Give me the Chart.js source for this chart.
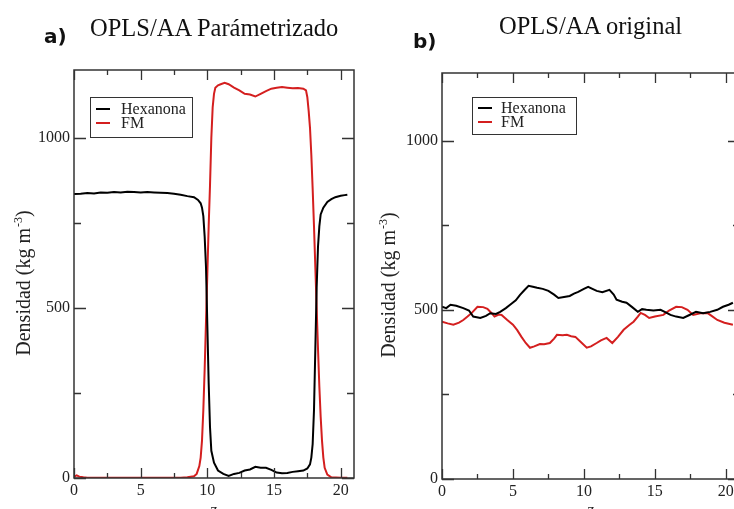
<!DOCTYPE html>
<html><head><meta charset="utf-8">
<script src="https://cdn.jsdelivr.net/npm/chart.js@4"></script>
<style>
html,body{margin:0;padding:0;background:#fff;overflow:hidden;}
#wrap{position:relative;width:734px;height:509px;overflow:hidden;background:#fff;}
canvas{position:absolute;top:0;}
.lbl{position:absolute;white-space:nowrap;color:#111;line-height:1;}
.serif{font-family:"Liberation Serif","Times New Roman",serif;font-size:24.5px;}
.bold{font-family:"DejaVu Sans",sans-serif;font-weight:bold;font-size:20px;}
</style></head>
<body><div id="wrap">
<canvas id="ca" width="380" height="520" style="left:0"></canvas>
<canvas id="cb" width="400" height="520" style="left:376px"></canvas>
<div class="lbl bold" style="left:44px;top:26px">a)</div>
<div class="lbl serif" style="left:90px;top:16px">OPLS/AA Parámetrizado</div>
<div class="lbl bold" style="left:413px;top:31px">b)</div>
<div class="lbl serif" style="left:499px;top:14px">OPLS/AA original</div>
</div>
<script>
// ---- data ----
const seriesNames = ['Hexanona', 'FM'];
const xTicks = [0, 5, 10, 15, 20];
const xMinor = [2.5, 7.5, 12.5, 17.5];
const yTicks = [0, 500, 1000];
const yMinor = [250, 750];
const xTitle = 'z';
const yTitleMain = 'Densidad (kg m';
const yTitleSup = '-3';
const yTitleEnd = ')';

// panel a) OPLS/AA Parámetrizado
const hexA_z = [0,0.5,1,1.5,2,2.5,3,3.5,4,4.5,5,5.5,6,6.5,7,7.5,8,8.5,9,9.3,9.5,9.6,9.7,9.8,9.9,10.0,10.1,10.2,10.3,10.5,10.8,11.2,11.6,12.0,12.4,12.8,13.2,13.6,14.0,14.4,14.8,15.2,15.6,16.0,16.4,16.8,17.2,17.5,17.7,17.8,17.9,18.0,18.1,18.2,18.3,18.4,18.5,18.7,19.0,19.3,19.6,20.0,20.3,20.5];
const hexA_v = [835,836,838,837,840,839,841,840,842,841,840,841,840,839,838,836,833,829,826,818,808,795,770,710,620,450,280,150,80,45,22,12,6,12,15,22,25,33,30,30,24,16,14,15,18,20,22,28,40,60,100,200,380,560,680,740,775,795,812,820,826,830,832,833];
const fmA_z = [0,0.2,0.4,0.7,1,2,3,4,5,6,7,8,8.5,9.0,9.2,9.4,9.5,9.6,9.7,9.8,9.9,10.0,10.1,10.2,10.3,10.4,10.5,10.6,10.8,11.0,11.3,11.6,12.0,12.4,12.8,13.2,13.6,14.0,14.4,14.8,15.2,15.6,16.0,16.4,16.8,17.2,17.4,17.5,17.6,17.7,17.8,17.9,18.0,18.1,18.2,18.3,18.4,18.5,18.6,18.7,18.8,19.0,19.3,20.0,20.5];
const fmA_v = [3,8,4,2,1,1,1,1,1,1,1,1,2,5,12,35,60,110,200,320,460,600,740,860,1000,1090,1130,1148,1155,1158,1162,1158,1148,1140,1130,1128,1122,1130,1138,1145,1148,1150,1148,1146,1147,1145,1140,1120,1080,1030,950,850,740,620,500,380,270,180,110,60,30,10,2,1,1];

// panel b) OPLS/AA original
const hexB_z = [0,0.3,0.6,1.0,1.5,1.9,2.2,2.7,3.1,3.4,3.8,4.1,4.5,4.8,5.2,5.5,5.8,6.1,6.4,6.7,7.1,7.5,7.9,8.2,8.6,9.0,9.3,9.6,10.0,10.3,10.6,10.9,11.3,11.8,12.1,12.3,12.7,13.0,13.4,13.8,14.1,14.4,14.9,15.4,15.8,16.1,16.5,17.0,17.4,17.9,18.4,18.9,19.4,19.8,20.2,20.5];
const hexB_v = [509,505,515,512,505,498,480,476,482,490,488,494,505,515,528,544,558,571,568,565,562,556,545,535,538,541,548,553,562,568,562,556,552,559,545,530,524,521,508,494,502,500,498,500,492,485,480,476,484,494,490,494,500,509,515,521];
const fmB_z = [0,0.4,0.8,1.2,1.5,1.8,2.1,2.5,2.9,3.2,3.5,3.7,4.0,4.2,4.6,5.0,5.3,5.6,5.9,6.2,6.5,6.9,7.2,7.6,7.9,8.1,8.5,8.8,9.1,9.4,9.8,10.2,10.5,10.9,11.2,11.6,12.0,12.4,12.8,13.2,13.5,13.8,14.0,14.3,14.6,15.0,15.6,16.0,16.5,16.9,17.3,17.7,18.2,18.7,19.0,19.4,19.9,20.5];
const fmB_v = [465,460,456,462,470,480,491,509,508,503,490,480,486,485,470,456,440,420,402,388,392,399,398,402,415,426,425,426,422,420,404,388,392,402,410,417,402,420,441,455,465,480,491,485,476,480,485,498,509,508,500,485,490,491,482,470,462,456];

// ---- styling ----
const SERIF = '"Liberation Serif","Times New Roman",serif';
const INK = '#222';
const COLORS = ['#000000', '#d41f1f'];

const framePlugin = {
  id: 'frame',
  afterDatasetsDraw(chart) {
    const {ctx, chartArea: a, scales: {x, y}} = chart;
    ctx.save();
    ctx.strokeStyle = '#333';
    ctx.lineWidth = 1.5;
    ctx.strokeRect(a.left, a.top, a.right - a.left, a.bottom - a.top);
    ctx.lineWidth = 1.3;
    ctx.beginPath();
    const xt = (vals, len) => vals.forEach(v => {
      const p = Math.round(x.getPixelForValue(v)) + 0.5;
      ctx.moveTo(p, a.bottom); ctx.lineTo(p, a.bottom - len);
      ctx.moveTo(p, a.top); ctx.lineTo(p, a.top + len);
    });
    const yt = (vals, len) => vals.forEach(v => {
      const p = Math.round(y.getPixelForValue(v)) + 0.5;
      ctx.moveTo(a.left, p); ctx.lineTo(a.left + len, p);
      ctx.moveTo(a.right, p); ctx.lineTo(a.right - len, p);
    });
    xt(xTicks, 10); xt(xMinor, 5);
    yt(yTicks, 12); yt(yMinor, 7);
    ctx.stroke();
    ctx.restore();
  }
};

// y-axis title with a real superscript, centred on the y scale
const yTitlePlugin = {
  id: 'yTitleSup',
  afterDraw(chart, args, opts) {
    const {ctx, scales: {y}} = chart;
    const f = opts.size, fs = Math.round(opts.size * 0.62);
    ctx.save();
    ctx.fillStyle = INK;
    ctx.textBaseline = 'alphabetic';
    ctx.font = f + 'px ' + SERIF;
    const w1 = ctx.measureText(yTitleMain).width;
    const w3 = ctx.measureText(yTitleEnd).width;
    ctx.font = fs + 'px ' + SERIF;
    const w2 = ctx.measureText(yTitleSup).width;
    const total = w1 + w2 + w3 + 1;
    const cy = (y.top + y.bottom) / 2 + opts.shift;
    ctx.translate(opts.baseX, cy);
    ctx.rotate(-Math.PI / 2);
    let x0 = -total / 2;
    ctx.font = f + 'px ' + SERIF;
    ctx.fillText(yTitleMain, x0, 0);
    ctx.font = fs + 'px ' + SERIF;
    ctx.fillText(yTitleSup, x0 + w1 + 1, -f * 0.42);
    ctx.font = f + 'px ' + SERIF;
    ctx.fillText(yTitleEnd, x0 + w1 + w2 + 1, 0);
    ctx.restore();
  }
};

const legendPlugin = {
  id: 'boxLegend',
  afterDraw(chart, args, opts) {
    const {ctx, chartArea: a} = chart;
    const x0 = a.left + opts.dx, y0 = a.top + opts.dy;
    ctx.save();
    ctx.fillStyle = '#fff';
    ctx.fillRect(x0, y0, opts.w, opts.h);
    ctx.strokeStyle = '#333';
    ctx.lineWidth = 1;
    ctx.strokeRect(x0 + 0.5, y0 + 0.5, opts.w, opts.h);
    ctx.font = '16px ' + SERIF;
    ctx.textBaseline = 'middle';
    chart.data.datasets.forEach((ds, i) => {
      const ly = y0 + opts.line0 + i * 14;
      ctx.strokeStyle = ds.borderColor;
      ctx.lineWidth = 2;
      ctx.beginPath();
      ctx.moveTo(x0 + 6, ly); ctx.lineTo(x0 + 20, ly);
      ctx.stroke();
      ctx.fillStyle = INK;
      ctx.fillText(ds.label, x0 + opts.tx, ly + 1);
    });
    ctx.restore();
  }
};

function makeChart(id, hz, hv, fz, fv, L) {
  const mk = (z, v) => z.map((zz, i) => ({x: zz, y: v[i]}));
  return new Chart(document.getElementById(id), {
    type: 'line',
    data: {
      datasets: [
        {label: seriesNames[0], data: mk(hz, hv), borderColor: COLORS[0], borderWidth: 2, pointRadius: 0, tension: 0},
        {label: seriesNames[1], data: mk(fz, fv), borderColor: COLORS[1], borderWidth: 2, pointRadius: 0, tension: 0}
      ]
    },
    options: {
      responsive: false,
      animation: false,
      layout: {padding: {left: L.padL, right: L.padR, top: L.padT, bottom: 0}},
      plugins: {
        legend: {display: false},
        tooltip: {enabled: false},
        boxLegend: L.legend,
        yTitleSup: L.ytitle
      },
      scales: {
        x: {
          type: 'linear', min: 0, max: 21,
          grid: {display: false, drawTicks: false},
          border: {display: false},
          afterBuildTicks: s => { s.ticks = xTicks.map(v => ({value: v})); },
          afterFit: s => { s.height = L.xH; },
          ticks: {color: INK, font: {family: SERIF, size: 16}, padding: 3, maxRotation: 0, callback: v => String(v)},
          title: {display: true, text: xTitle, color: INK, font: {family: SERIF, size: 16}, padding: {top: 0, bottom: 0}}
        },
        y: {
          type: 'linear', min: 0, max: 1200,
          grid: {display: false, drawTicks: false},
          border: {display: false},
          afterBuildTicks: s => { s.ticks = yTicks.map(v => ({value: v})); },
          afterFit: s => { s.width = L.yW; },
          ticks: {color: INK, font: {family: SERIF, size: 16}, padding: 4, callback: v => String(v)},
          title: {display: false}
        }
      }
    },
    plugins: [framePlugin, legendPlugin, yTitlePlugin]
  });
}

makeChart('ca', hexA_z, hexA_v, fmA_z, fmA_v,
  {padL: 13, padR: 26, padT: 70, yW: 61, xH: 42,
   legend: {dx: 16, dy: 27, w: 102, h: 40, line0: 12, tx: 31},
   ytitle: {size: 20, baseX: 30, shift: 9}});
makeChart('cb', hexB_z, hexB_v, fmB_z, fmB_v,
  {padL: 2, padR: 36, padT: 73, yW: 64, xH: 41,
   legend: {dx: 30, dy: 24, w: 104, h: 37, line0: 11, tx: 29},
   ytitle: {size: 20, baseX: 19, shift: 9}});
</script>
</body></html>
